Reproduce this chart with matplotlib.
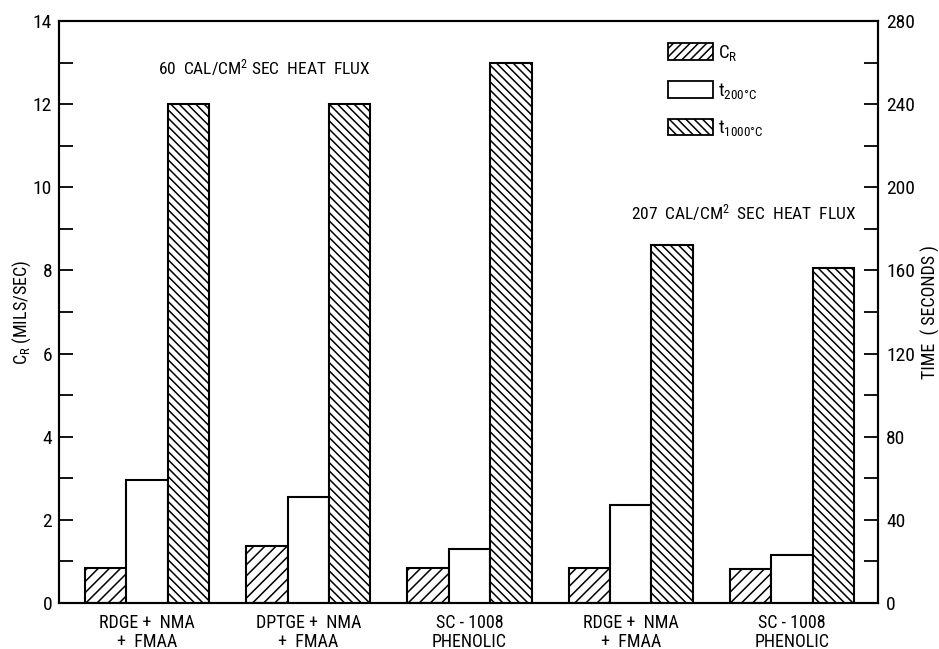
import matplotlib
matplotlib.use("Agg")
import matplotlib.pyplot as plt
import matplotlib.patches as mpatches
from matplotlib import font_manager
import numpy as np

# pick a condensed sans if one is installed
installed = {f.name for f in font_manager.fontManager.ttflist}
font = 'DejaVu Sans'
for name in ['Roboto Condensed', 'Liberation Sans Narrow', 'PT Sans Narrow', 'Archivo Narrow',
             'Fira Sans Condensed', 'IBM Plex Sans Condensed', 'Encode Sans Condensed',
             'Liberation Sans']:
    if name in installed:
        font = name
        break

plt.rcParams['font.family'] = [font, 'DejaVu Sans']
plt.rcParams['mathtext.fontset'] = 'custom'
plt.rcParams['mathtext.rm'] = font
plt.rcParams['mathtext.it'] = font
plt.rcParams['mathtext.bf'] = font
plt.rcParams['hatch.linewidth'] = 1.1

# data
materials = ['RDGE +  NMA\n+  FMAA', 'DPTGE +  NMA\n+  FMAA', 'SC - 1008\nPHENOLIC',
             'RDGE +  NMA\n+  FMAA', 'SC - 1008\nPHENOLIC']
c_r = [0.85, 1.38, 0.85, 0.84, 0.82]          # mils/sec, left axis
t_200 = [59, 51, 26, 47, 23]                   # seconds, right axis
t_1000 = [240, 240, 260, 172, 161]             # seconds, right axis

x = np.arange(len(materials))
w = 0.257

fig = plt.figure(figsize=(9.39, 6.49), dpi=100)
ax = fig.add_axes([0.0628, 0.0709, 0.8722, 0.8967])
ax2 = ax.twinx()

ax.bar(x - w, c_r, w, facecolor='white', edgecolor='black', linewidth=1.5, hatch='///')
ax2.bar(x, t_200, w, facecolor='white', edgecolor='black', linewidth=1.5)
ax2.bar(x + w, t_1000, w, facecolor='white', edgecolor='black', linewidth=1.5, hatch='\\\\\\\\')

ax.set_xlim(-0.546, 4.533)
ax.set_ylim(0, 14)
ax2.set_ylim(0, 280)

ax.set_yticks(np.arange(0, 15, 2))
ax.set_yticks(np.arange(1, 14, 2), minor=True)
ax2.set_yticks(np.arange(0, 281, 40))
ax2.set_yticks(np.arange(20, 280, 40), minor=True)

for a in (ax, ax2):
    a.tick_params(axis='y', which='both', direction='in', length=10, width=1.3, labelsize=14)
    for s in a.spines.values():
        s.set_linewidth(1.5)
ax.tick_params(axis='y', pad=5)
ax2.tick_params(axis='y', pad=6)

ax.set_xticks(x)
ax.set_xticklabels(materials, fontsize=13, linespacing=1.05)
ax.tick_params(axis='x', length=0, pad=8)

ax.set_ylabel(r'$\mathregular{C_R}$ (MILS/SEC)', fontsize=13, va='center')
ax.yaxis.set_label_coords(-0.045, 0.5)
ax2.set_ylabel('TIME  ( SECONDS )', fontsize=13, va='center')
ax2.yaxis.set_label_coords(1.0635, 0.5)

ax.text(0.73, 12.87, r'60  CAL/CM$^\mathregular{2}$ SEC  HEAT  FLUX', fontsize=12.5,
        ha='center', va='center')
ax.text(3.70, 9.4, r'207  CAL/CM$^\mathregular{2}$  SEC  HEAT  FLUX', fontsize=12.5,
        ha='center', va='center')

handles = [
    mpatches.Patch(facecolor='white', edgecolor='black', linewidth=1.3, hatch='////'),
    mpatches.Patch(facecolor='white', edgecolor='black', linewidth=1.3),
    mpatches.Patch(facecolor='white', edgecolor='black', linewidth=1.3, hatch='\\\\\\\\'),
]
labels = [r'$\mathregular{C_R}$', r'$\mathregular{t_{200°C}}$', r'$\mathregular{t_{1000°C}}$']
ax2.legend(handles, labels, loc='upper left', bbox_to_anchor=(0.711, 0.934),
           bbox_transform=fig.transFigure, frameon=False, fontsize=13.5,
           handlelength=2.4, handleheight=1.0, labelspacing=0.95,
           handletextpad=0.3, borderpad=0, borderaxespad=0)

fig.savefig('out.png', dpi=100)
